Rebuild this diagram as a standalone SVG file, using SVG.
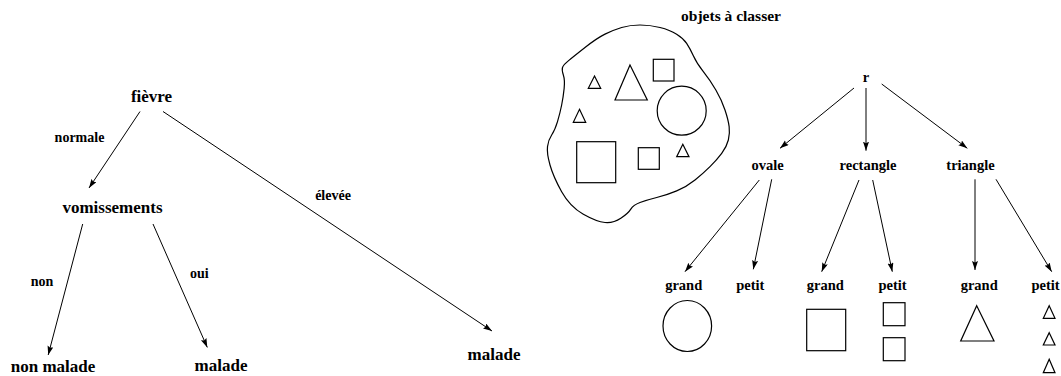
<svg xmlns="http://www.w3.org/2000/svg" width="1061" height="376" viewBox="0 0 1061 376">
<style>
text{font-family:"Liberation Serif","Times New Roman",serif;font-weight:bold;fill:#000;text-anchor:middle}
.n{font-size:17px}
.l{font-size:14px}
.m{font-size:14.5px}
.c line{stroke:#000;stroke-width:1;marker-end:url(#ah)}
.s{fill:none;stroke:#000;stroke-width:1.2}
</style>
<defs>
<marker id="ah" markerUnits="userSpaceOnUse" markerWidth="10" markerHeight="7" refX="9" refY="3" orient="auto">
<path d="M0,0 L9,3 L0,6 L1.5,3 z" fill="#000"/>
</marker>
</defs>
<rect width="1061" height="376" fill="#fff"/>
<g class="c" id="connectors">
<line x1="140" y1="111.5" x2="89" y2="188"/>
<line x1="163" y1="111.5" x2="492" y2="331"/>
<line x1="82.7" y1="224" x2="48.2" y2="355"/>
<line x1="153" y1="224" x2="207.3" y2="347.4"/>
<line x1="854" y1="88" x2="780" y2="148.3"/>
<line x1="866" y1="88" x2="866" y2="150.7"/>
<line x1="881.7" y1="84" x2="967.3" y2="148.3"/>
<line x1="759.3" y1="180" x2="685" y2="271.7"/>
<line x1="771.7" y1="179.3" x2="753.3" y2="269.3"/>
<line x1="859" y1="180" x2="821.7" y2="271.7"/>
<line x1="872.7" y1="180" x2="892.3" y2="271.7"/>
<line x1="975" y1="179.3" x2="975" y2="270"/>
<line x1="996" y1="179.3" x2="1051.7" y2="271.7"/>
</g>
<g id="edge-labels">
<text class="l" x="79.5" y="141.5">normale</text>
<text class="l" x="333" y="200">élevée</text>
<text class="l" x="42" y="286">non</text>
<text class="l" x="199.3" y="278">oui</text>
</g>
<g id="fievre"><text class="n" x="151.5" y="102">fièvre</text></g>
<g id="vomissements"><text class="n" x="112.5" y="213">vomissements</text></g>
<g id="non-malade"><text class="n" x="53" y="372">non malade</text></g>
<g id="malade-1"><text class="n" x="221" y="371">malade</text></g>
<g id="malade-2"><text class="n" x="494" y="359.5">malade</text></g>
<g id="objets">
<text x="731" y="20.5" style="font-size:15.5px">objets à classer</text>
<path class="s" d="M562.5,67.5 Q563.3,65 568.3,60.85 Q573.3,56.7 585,47.5 Q596.7,38.3 605,34.15 Q613.3,30 621.65,27.5 Q630,25 640,25 Q650,25 660,27.5 Q670,30 676.65,34.15 Q683.3,38.3 686.65,43.3 Q690,48.3 693.35,55.8 Q696.7,63.3 703.35,71.65 Q710,80 715.85,90 Q721.7,100 725,110 Q728.3,120 729.15,126.65 Q730,133.3 728.35,140 Q726.7,146.7 721.7,153.35 Q716.7,160 710,166.65 Q703.3,173.3 695,180 Q686.7,186.7 676.7,190.85 Q666.7,195 656.7,197.5 Q646.7,200 640,202.5 Q633.3,205 630.8,209.15 Q628.3,213.3 620.8,218.3 Q613.3,223.3 605,222.5 Q596.7,221.7 583.35,214.2 Q570,206.7 561.65,191.7 Q553.3,176.7 550,165 Q546.7,153.3 547.5,146.65 Q548.3,140 551.65,135 Q555,130 557.5,121.65 Q560,113.3 561.65,105 Q563.3,96.7 564.15,88.35 Q565,80 563.35,75 Q561.7,70 562.5,67.5 Z"/>
<polygon class="s" points="594.5,76 600.7,88.3 588.3,88.3"/>
<polygon class="s" points="630,65 647.3,100 615,100"/>
<rect class="s" x="653.3" y="59.3" width="20.7" height="21.7"/>
<circle class="s" cx="681.7" cy="110.7" r="24.5"/>
<polygon class="s" points="579.5,109.3 585.7,122.3 573.3,122.3"/>
<rect class="s" x="576.7" y="141.7" width="39" height="41"/>
<rect class="s" x="638.3" y="147.7" width="21" height="21.6"/>
<polygon class="s" points="682.8,144.3 689,156.7 676.7,156.7"/>
</g>
<g id="r"><text class="m" x="866" y="81.5">r</text></g>
<g id="ovale"><text class="m" x="767.5" y="170">ovale</text></g>
<g id="rectangle"><text class="m" x="868" y="170">rectangle</text></g>
<g id="triangle"><text class="m" x="970.5" y="170">triangle</text></g>
<g id="ovale-grand">
<text class="m" x="683.7" y="290">grand</text>
<ellipse class="s" cx="687.3" cy="326" rx="24.3" ry="25.5"/>
</g>
<g id="ovale-petit"><text class="m" x="750.3" y="290">petit</text></g>
<g id="rect-grand">
<text class="m" x="825.3" y="290">grand</text>
<rect class="s" x="806.7" y="309.3" width="39" height="41.4"/>
</g>
<g id="rect-petit">
<text class="m" x="892.5" y="290">petit</text>
<rect class="s" x="883.3" y="302.7" width="21.7" height="23"/>
<rect class="s" x="883.3" y="337.7" width="21.7" height="23"/>
</g>
<g id="tri-grand">
<text class="m" x="979.2" y="290">grand</text>
<polygon class="s" points="976.7,305.7 994,341 960.7,341"/>
</g>
<g id="tri-petit">
<text class="m" x="1045.5" y="290">petit</text>
<polygon class="s" points="1049.2,305.7 1055,318.3 1043.3,318.3"/>
<polygon class="s" points="1049.2,332.7 1055,345 1043.3,345"/>
<polygon class="s" points="1049.2,359.3 1055,372.7 1043.3,372.7"/>
</g>
</svg>
